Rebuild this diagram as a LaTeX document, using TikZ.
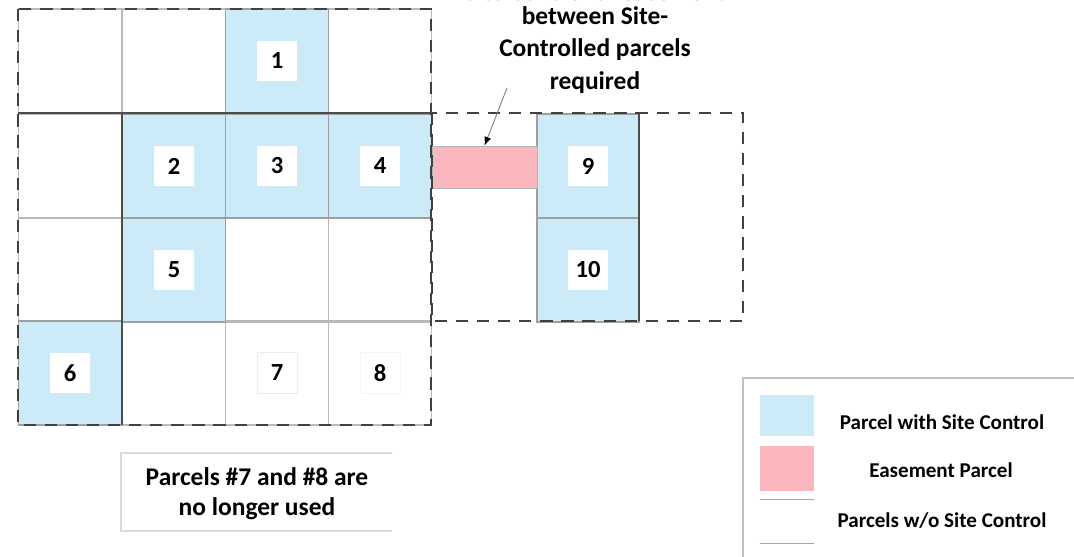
\documentclass[tikz,border=0pt]{standalone}
\usepackage{fontspec}
\setmainfont{Carlito}
\usetikzlibrary{positioning,arrows.meta}
\definecolor{siteblue}{RGB}{204,234,248}
\definecolor{easered}{RGB}{250,184,190}

\begin{document}
\begin{tikzpicture}[x=0.02cm,y=-0.02cm]
  \tikzset {
    cell/.style={
      rectangle,
      draw=gray!55,
      line width=0.6pt,
      minimum width=2.07cm,
      minimum height=2.08cm,
      inner sep=0pt
    },
    sitecell/.style={cell, fill=siteblue, draw=gray!75},
    num/.style={
      rectangle,
      fill=white,
      minimum width=0.8cm,
      minimum height=0.82cm,
      inner sep=0pt,
      font=\fontsize{14}{16}\selectfont\bfseries
    },
    boundary/.style={draw=black!75, line width=1.1pt, dash pattern=on 7pt off 5pt},
    note/.style={align=center, font=\fontsize{14.5}{18.5}\selectfont\bfseries},
    legendtext/.style={font=\fontsize{12}{14}\selectfont\bfseries}
  }
  \useasboundingbox (0,0) rectangle (1074,557);

  % parcels without site control
  \node[cell] (a11) at (70,61) {};
  \node[cell] (a12) at (174,61) {};
  \node[cell] (a14) at (380,61) {};
  \node[cell] (a21) at (70,166) {};
  \node[cell] (a31) at (70,270) {};
  \node[cell] (a33) at (277,270) {};
  \node[cell] (a34) at (380,270) {};
  \node[cell] (a42) at (174,373) {};
  \node[cell] (a43) at (277,373) {};
  \node[cell] (a44) at (380,373) {};

  % parcels with site control
  \node[sitecell] (p1) at (277,61) {};
  \node[sitecell] (p2) at (174,166) {};
  \node[sitecell] (p3) at (277,166) {};
  \node[sitecell] (p4) at (380,166) {};
  \node[sitecell] (p5) at (174,270) {};
  \node[sitecell] (p6) at (70,373) {};
  \node[sitecell, minimum width=2.04cm] (p9) at (588,166) {};
  \node[sitecell, minimum width=2.04cm] (p10) at (588,270) {};
  \draw[black!70, line width=0.9pt] (18,113) -- (431,113);
  \draw[black!70, line width=0.9pt] (122,113) -- (122,425);
  \draw[black!70, line width=0.9pt] (639,113) -- (639,321);

  % easement
  \node[rectangle, fill=easered, draw=gray!60, line width=0.4pt,
        minimum width=2.1cm, minimum height=0.84cm, inner sep=0pt] (easement) at (484.5,167) {};

  % numbers
  \node[num] at (p1) {1};
  \node[num] at (p2) {2};
  \node[num] at (p3) {3};
  \node[num] at (p4) {4};
  \node[num] at (p5) {5};
  \node[num] at (p6) {6};
  \node[num, draw=gray!15] at (a43) {7};
  \node[num, draw=gray!8] at (a44) {8};
  \node[num] at (p9) {9};
  \node[num] at (p10) {10};

  % site boundaries
  \draw[boundary] (18,9) rectangle (431,425);
  \draw[boundary] (432,113) rectangle (743,321);

  % callout (its first line runs off the top, as in the original)
  \node[note, anchor=base, inner sep=0pt] (callouttop) at (595,1) {Site Control of easement};
  \node[note] (callout) at (595,50) {between Site-\\Controlled parcels\\required};
  \coordinate (calltail) at (507,88);
  \draw[gray, line width=0.5pt, -{Latex[length=5pt,width=4pt,black]}] (calltail) -- (easement.north);

  % note about parcels 7 and 8
  \draw[gray!30, line width=0.7pt] (392,453) -- (121,453) -- (121,531) -- (392,531);
  \node[note, font=\fontsize{14.5}{17}\selectfont\bfseries] (unused) at (257,494) {Parcels \#7 and \#8 are\\no longer used};

  % legend
  \draw[gray!50, line width=0.8pt] (743,557) -- (743,378) -- (1074,378);
  \node[rectangle, fill=siteblue, minimum width=1.08cm, minimum height=0.82cm, inner sep=0pt] (keysite) at (787,415) {};
  \node[rectangle, fill=easered, minimum width=1.08cm, minimum height=0.9cm, inner sep=0pt, below=0.2cm of keysite] (keyease) {};
  \node[rectangle, minimum width=1.08cm, minimum height=0.86cm, inner sep=0pt, below=0.16cm of keyease] (keynone) {};
  \draw[gray!70, line width=0.7pt] (keynone.north west) -- (keynone.north east);
  \draw[gray!70, line width=0.7pt] (keynone.south west) -- (keynone.south east);
  \node[legendtext] (labsite) at (942,422) {Parcel with Site Control};
  \node[legendtext] (labease) at (941,470) {Easement Parcel};
  \node[legendtext] (labnone) at (942,521) {Parcels w/o Site Control};

\end{tikzpicture}
\end{document}
